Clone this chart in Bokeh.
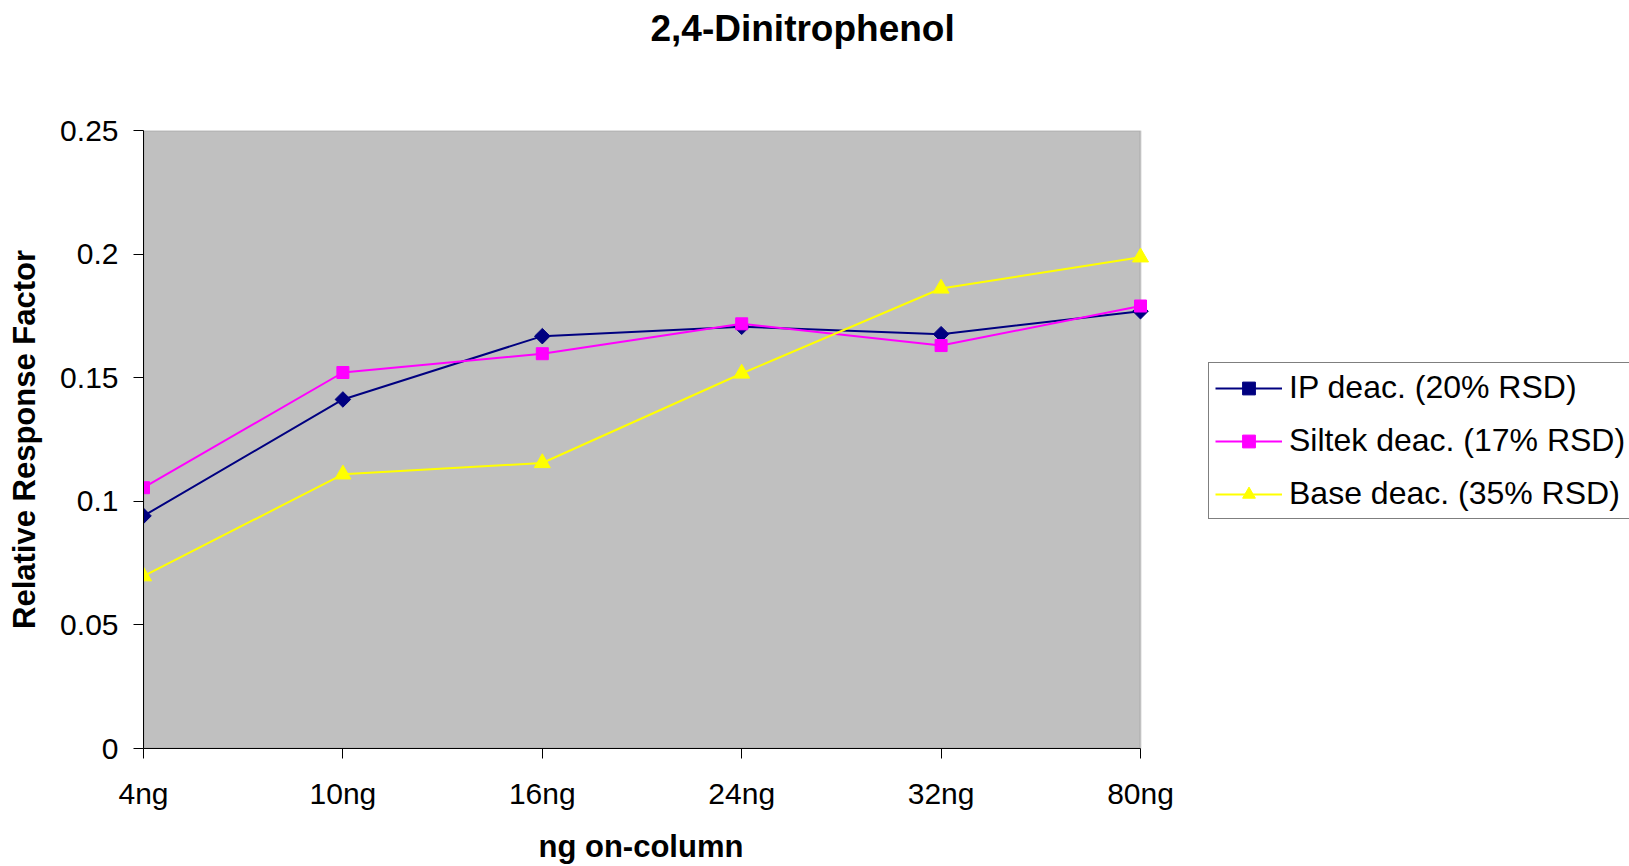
from bokeh.plotting import figure
from bokeh.models import Legend, LegendItem, FixedTicker, Range1d, Title, BoxAnnotation
from bokeh.embed import file_html
from bokeh.resources import INLINE

categories = ["4ng", "10ng", "16ng", "24ng", "32ng", "80ng"]
ip_deac = [0.0941, 0.1412, 0.1668, 0.1706, 0.1676, 0.1769]
siltek_deac = [0.1055, 0.1521, 0.1597, 0.1718, 0.1630, 0.1790]
base_deac = [0.0697, 0.1109, 0.1155, 0.1517, 0.1861, 0.1987]
series_names = ["IP deac. (20% RSD)", "Siltek deac. (17% RSD)", "Base deac. (35% RSD)"]
y_ticks = [0, 0.05, 0.1, 0.15, 0.2, 0.25]
y_tick_labels = ["0", "0.05", "0.1", "0.15", "0.2", "0.25"]
chart_title = "2,4-Dinitrophenol"
x_title = "ng on-column"
y_title = "Relative Response Factor"

FONT = "Liberation Sans"
W, H = 1629, 866
LEFT = 143
PLOT_W = 997                      # width of the grey chart area in px
x = list(range(len(categories)))
n = len(categories) - 1
y_max = y_ticks[-1]

p = figure(width=W, height=H, output_backend="svg", toolbar_location=None,
           x_range=Range1d(0, n * (W - LEFT) / PLOT_W), y_range=Range1d(0, y_max),
           min_border_left=LEFT, min_border_right=0, min_border_top=130, min_border_bottom=118)
p.background_fill_color = "white"
p.border_fill_color = "white"
p.outline_line_color = None
p.xgrid.visible = False
p.ygrid.visible = False

p.add_layout(BoxAnnotation(left=0, right=n, bottom=0, top=y_max, fill_color="#C0C0C0",
                           fill_alpha=1.0, line_color="#808080", line_width=2, level="underlay"))

for ax in (p.xaxis[0], p.yaxis[0]):
    ax.axis_line_color = "black"
    ax.axis_line_width = 1
    ax.major_tick_line_color = "black"
    ax.major_tick_in = 0
    ax.major_tick_out = 10
    ax.minor_tick_line_color = None
    ax.major_label_text_font = FONT
    ax.major_label_text_font_size = "30px"
    ax.major_label_text_color = "black"
    ax.axis_label_text_font = FONT
    ax.axis_label_text_font_size = "31px"
    ax.axis_label_text_font_style = "bold"
    ax.axis_label_text_color = "black"

p.xaxis.bounds = (0, n)
p.xaxis.ticker = FixedTicker(ticks=x)
p.xaxis.major_label_overrides = {i: c for i, c in zip(x, categories)}
p.xaxis.major_label_standoff = 18

p.yaxis.ticker = FixedTicker(ticks=y_ticks)
p.yaxis.major_label_overrides = {t: s for t, s in zip(y_ticks, y_tick_labels)}
p.yaxis.axis_label = y_title
p.yaxis.major_label_standoff = 15
p.yaxis.axis_label_standoff = 15

styles = [
    dict(color="#000080", marker="square", size=11, angle=0.785398),
    dict(color="#FF00FF", marker="square", size=12, angle=0.0),
    dict(color="#FFFF00", marker="triangle", size=16, angle=0.0),
]
items = []
for name, vals, st in zip(series_names, [ip_deac, siltek_deac, base_deac], styles):
    ln = p.line(x, vals, line_color=st["color"], line_width=2)
    sc = p.scatter(x, vals, marker=st["marker"], size=st["size"], angle=st["angle"],
                   fill_color=st["color"], line_color=st["color"])
    items.append(LegendItem(label=name, renderers=[ln, sc]))

# chart title above the frame (an empty spacer keeps it near the top)
p.add_layout(Title(text=" ", text_font_size="2px", standoff=78), "above")
p.add_layout(Title(text=chart_title, text_font=FONT, text_font_size="37px",
                   text_font_style="bold", text_color="black", align="left",
                   offset=507, standoff=0, vertical_align="bottom"), "above")

# x axis title, centred under the grey chart area (small spacer above it)
p.add_layout(Title(text=" ", text_font_size="2px", standoff=10), "below")
p.add_layout(Title(text=x_title, text_font=FONT, text_font_size="31px",
                   text_font_style="bold", text_color="black", align="left",
                   offset=395, standoff=0, vertical_align="bottom"), "below")

legend = Legend(items=items, location=(1065, 229))
legend.label_text_font = FONT
legend.label_text_font_size = "32px"
legend.label_text_color = "black"
legend.border_line_color = "black"
legend.border_line_width = 1
legend.background_fill_color = "white"
legend.background_fill_alpha = 1.0
legend.glyph_width = 67
legend.glyph_height = 32
legend.label_standoff = 7
legend.padding = 6
legend.spacing = 16
legend.margin = 0
p.add_layout(legend, "center")

open("out.html", "w").write(file_html(p, INLINE))
